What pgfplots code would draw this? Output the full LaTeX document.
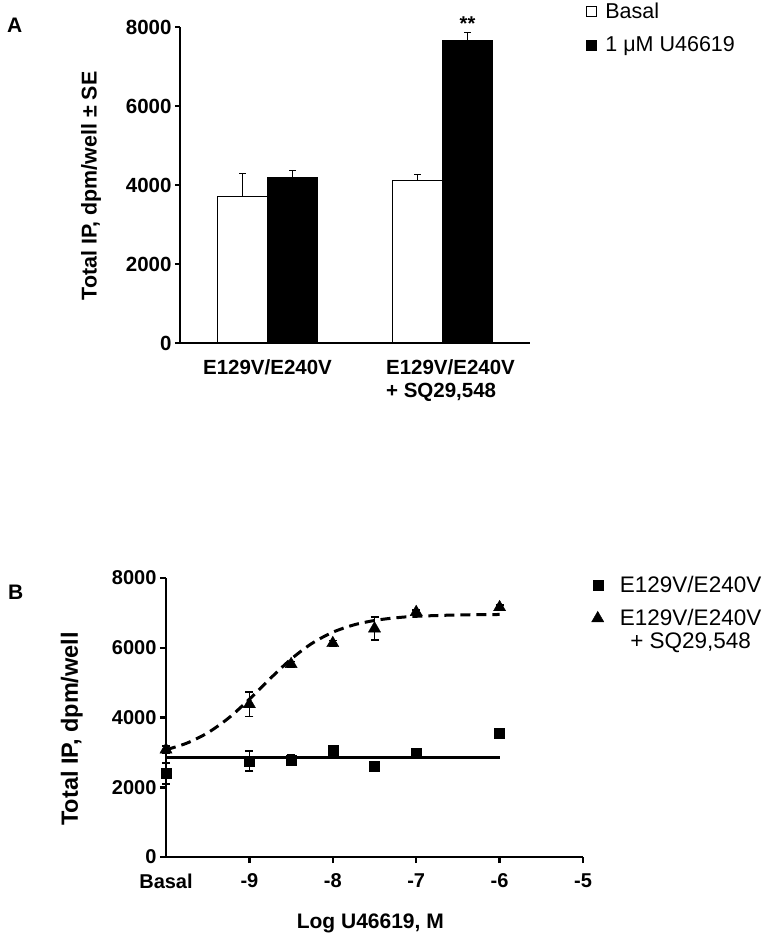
\documentclass[border=0pt]{standalone}
\usepackage{pgfplots}
\pgfplotsset{compat=1.18}
\usepackage{fontspec}
\setmainfont{Liberation Sans}
\newcommand{\fs}[1]{\fontsize{#1}{#1}\selectfont}
\begin{document}
\begin{tikzpicture}
\path[use as bounding box] (0pt,0pt) rectangle (779pt,940pt);
\node[font=\bfseries\fs{21}, anchor=north west, inner sep=0pt] at (7pt,922pt) {A};
\node[font=\bfseries\fs{21}, anchor=north west, inner sep=0pt] at (8pt,355pt) {B};
% ---------------- Panel A
\begin{axis}[
  at={(180pt,597pt)}, anchor=south west,
  scale only axis, width=350pt, height=316pt,
  xmin=-0.5, xmax=1.5, ymin=0, ymax=8000,
  axis lines=left, axis line style={-, line width=1.2pt},
  clip=false,
  xtick={0,1},
  xticklabels={E129V/E240V, {\hspace*{16pt}E129V/E240V\\\hspace*{16pt}+ SQ29,548}},
  xticklabel style={align=left, font=\bfseries\fontsize{20.5}{23}\selectfont, yshift=-8pt},
  x tick style={draw=none},
  ytick={0,2000,4000,6000,8000},
  yticklabels={0,2000,4000,6000,8000},
  yticklabel style={font=\bfseries\fs{20.5}},
  y tick style={line width=1.2pt, black},
  tick align=outside, major tick length=5pt,
  ylabel={Total IP, dpm/well \textpm{} SE},
  ylabel style={font=\bfseries\fs{21.4}, at={(axis description cs:-0.254,0.497)}, anchor=center},
  legend style={at={(1.158,1.09)}, anchor=north west, draw=none, fill=none,
    font=\fs{21.5}, inner sep=0pt, row sep=9pt, nodes={inner sep=4pt}},
  legend cell align=left,
  legend image code/.code={\draw[#1, line width=0.8pt] (0pt,-5pt) rectangle (10pt,5pt); \path (15pt,0pt);},
]
\addplot[ybar, bar width=50pt, fill=white, draw=black, line width=1pt,
  error bars/.cd, y dir=plus, y explicit,
  error bar style={line width=1pt, black},
  error mark options={rotate=90, mark size=3.5pt, line width=1pt}]
  coordinates {(-0.142857,3700) +- (0,580) (0.857143,4120) +- (0,150)};
\addlegendentry{Basal}
\addplot[ybar, bar width=50pt, fill=black, draw=black, line width=1pt,
  error bars/.cd, y dir=plus, y explicit,
  error bar style={line width=1pt, black},
  error mark options={rotate=90, mark size=3.5pt, line width=1pt}]
  coordinates {(0.142857,4180) +- (0,175) (1.142857,7670) +- (0,200)};
\addlegendentry{1 μM U46619}
\node[font=\bfseries\fs{20}, anchor=base] at (axis cs:1.143,7920) {**};
\end{axis}
% ---------------- Panel B
\begin{axis}[
  at={(166pt,83pt)}, anchor=south west,
  scale only axis, width=417pt, height=279pt,
  xmin=-10, xmax=-5, ymin=0, ymax=8000,
  axis lines=left, axis line style={-, line width=2.5pt},
  clip=false,
  xtick={-9,-8,-7,-6,-5},
  xticklabels={-9,-8,-7,-6,-5},
  extra x ticks={-10}, extra x tick labels={Basal},
  extra x tick style={x tick style={draw=none}},
  xticklabel style={font=\bfseries\fs{20}, yshift=-7pt},
  ytick={0,2000,4000,6000,8000},
  yticklabels={0,2000,4000,6000,8000},
  yticklabel style={font=\bfseries\fs{20}},
  tick style={line width=2.5pt, black},
  tick align=outside, major tick length=6pt,
  xlabel={Log U46619, M},
  xlabel style={font=\bfseries\fs{21}, at={(axis description cs:0.49,-0.237)}, anchor=center},
  ylabel={Total IP, dpm/well},
  ylabel style={font=\bfseries\fs{23.5}, at={(axis description cs:-0.226,0.459)}, anchor=center},
  legend style={at={(1.02,1.02)}, anchor=north west, draw=none, fill=none,
    font=\fs{22.5}, inner sep=0pt, row sep=7pt, nodes={inner sep=4pt}},
  legend cell align=left,
  legend image code/.code={\draw[#1] plot coordinates {(0pt,0pt)}; \path (-6pt,0pt) (18pt,0pt);},
]
\addplot[only marks, mark=square*, mark size=5pt, black,
  error bars/.cd, y dir=both, y explicit,
  error bar style={line width=1.5pt, black},
  error mark options={rotate=90, mark size=4pt, line width=1.5pt}]
  coordinates {(-10,2390) +- (0,300) (-9,2750) +- (0,290) (-8.5,2780) +- (0,150)
               (-8,3066) +- (0,100) (-7.5,2600) +- (0,60) (-7,2980) +- (0,60) (-6,3550) +- (0,60)};
\addlegendentry{E129V/E240V}
\addplot[only marks, mark=triangle*, mark size=7pt, black,
  error bars/.cd, y dir=both, y explicit,
  error bar style={line width=1.5pt, black},
  error mark options={rotate=90, mark size=4pt, line width=1.5pt}]
  coordinates {(-10,3080) +- (0,100) (-9,4380) +- (0,350) (-8.5,5530) +- (0,80)
               (-8,6130) +- (0,80) (-7.5,6550) +- (0,330) (-7,7020) +- (0,60) (-6,7160) +- (0,60)};
\addlegendentry{\raisebox{0pt}[\height][0pt]{\begin{tabular}[t]{@{}c@{}}E129V/E240V\\[0pt]+ SQ29,548\end{tabular}}}
\addplot[forget plot, line width=3pt, black] coordinates {(-10,2865) (-6,2865)};
\addplot[forget plot, line width=3pt, black, dash pattern=on 10pt off 6pt, smooth]
  coordinates {(-10,3075) (-9.75,3265) (-9.5,3561) (-9.25,3984) (-9,4524) (-8.75,5118)
               (-8.5,5675) (-8.25,6125) (-8,6445) (-7.75,6654) (-7.5,6782) (-7.25,6858)
               (-7,6902) (-6.5,6941) (-6,6954)};
\end{axis}
\end{tikzpicture}
\end{document}
